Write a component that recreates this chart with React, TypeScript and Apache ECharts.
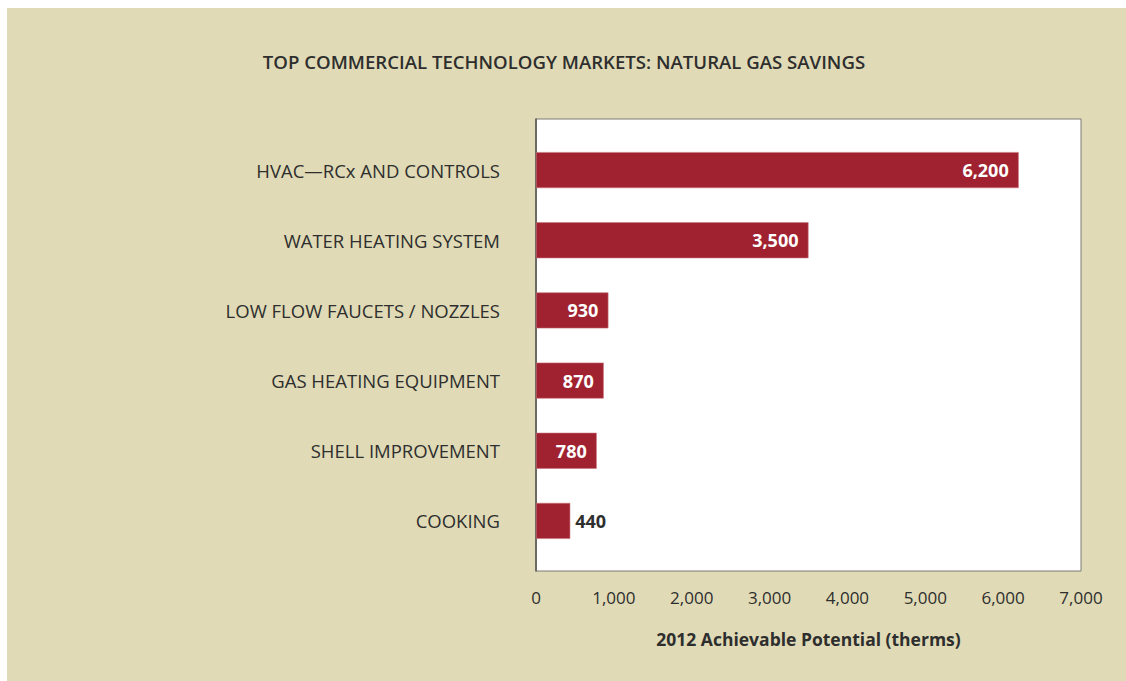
import React, { useEffect, useRef } from "react";
import * as echarts from "echarts";

const categories = [
  "HVAC—RCx AND CONTROLS",
  "WATER HEATING SYSTEM",
  "LOW FLOW FAUCETS / NOZZLES",
  "GAS HEATING EQUIPMENT",
  "SHELL IMPROVEMENT",
  "COOKING",
];
const savings = [6200, 3500, 930, 870, 780, 440];
const xTicks = [0, 1000, 2000, 3000, 4000, 5000, 6000, 7000];

const TITLE = "TOP COMMERCIAL TECHNOLOGY MARKETS: NATURAL GAS SAVINGS";
const X_NAME = "2012 Achievable Potential (therms)";

const FONT = "'Open Sans', 'Noto Sans', sans-serif";
const TEXT = "#2e2e2e";
const BAR = "#a02230";
const BEIGE = "#e0dbb6";

const fmt = (v: number) => v.toLocaleString("en-US");

export default function App() {
  const ref = useRef<HTMLDivElement>(null);

  useEffect(() => {
    document.body.style.margin = "0";
    document.body.style.overflow = "hidden";
    if (!ref.current) return;
    const chart = echarts.init(ref.current, null, { renderer: "svg" });
    chart.setOption({
      animation: false,
      backgroundColor: "#ffffff",
      textStyle: { fontFamily: FONT },
      graphic: [
        {
          type: "rect",
          z: -10,
          shape: { x: 7, y: 8, width: 1119, height: 673 },
          style: { fill: BEIGE },
          silent: true,
        },
        {
          type: "rect",
          z: -5,
          shape: { x: 536, y: 119, width: 545, height: 452 },
          style: { fill: "#ffffff", stroke: "#7a7a72", lineWidth: 1 },
          silent: true,
        },
        {
          type: "line",
          z: -4,
          shape: { x1: 536, y1: 118.5, x2: 536, y2: 571.5 },
          style: { stroke: "#6a6a62", lineWidth: 2 },
          silent: true,
        },
      ],
      title: {
        text: TITLE,
        left: 559,
        top: 47,
        textAlign: "center",
        textStyle: {
          fontFamily: FONT,
          fontSize: 18.6,
          fontWeight: 600,
          color: TEXT,
        },
      },
      grid: { left: 536, top: 135, width: 545, height: 421, containLabel: false },
      xAxis: {
        type: "value",
        min: 0,
        max: 7000,
        interval: 1000,
        axisLine: { show: false },
        axisTick: { show: false },
        splitLine: { show: false },
        axisLabel: {
          margin: 33,
          fontSize: 17,
          color: TEXT,
          fontFamily: FONT,
          formatter: (v: number) => (xTicks.includes(v) ? fmt(v) : ""),
        },
        name: X_NAME,
        nameLocation: "middle",
        nameGap: 74,
        nameTextStyle: {
          fontSize: 17.5,
          fontWeight: "bold",
          color: TEXT,
          fontFamily: FONT,
        },
      },
      yAxis: {
        type: "category",
        data: categories,
        inverse: true,
        axisLine: { show: false },
        axisTick: { show: false },
        axisLabel: {
          margin: 36,
          fontSize: 18.5,
          color: TEXT,
          fontFamily: FONT,
          padding: [3, 0, 0, 0],
        },
      },
      series: [
        {
          type: "bar",
          barWidth: 36,
          itemStyle: { color: BAR, borderColor: "#c9737c", borderWidth: 0.6 },
          data: savings.map((v) =>
            v < 600
              ? {
                  value: v,
                  label: {
                    position: "right",
                    distance: 5,
                    color: TEXT,
                  },
                }
              : { value: v }
          ),
          label: {
            show: true,
            position: "insideRight",
            distance: 10,
            color: "#ffffff",
            fontSize: 18,
            fontWeight: "bold",
            fontFamily: FONT,
            formatter: (p: any) => fmt(p.value),
          },
        },
      ],
    });
    return () => chart.dispose();
  }, []);

  return <div ref={ref} style={{ width: 1126, height: 681 }} />;
}
